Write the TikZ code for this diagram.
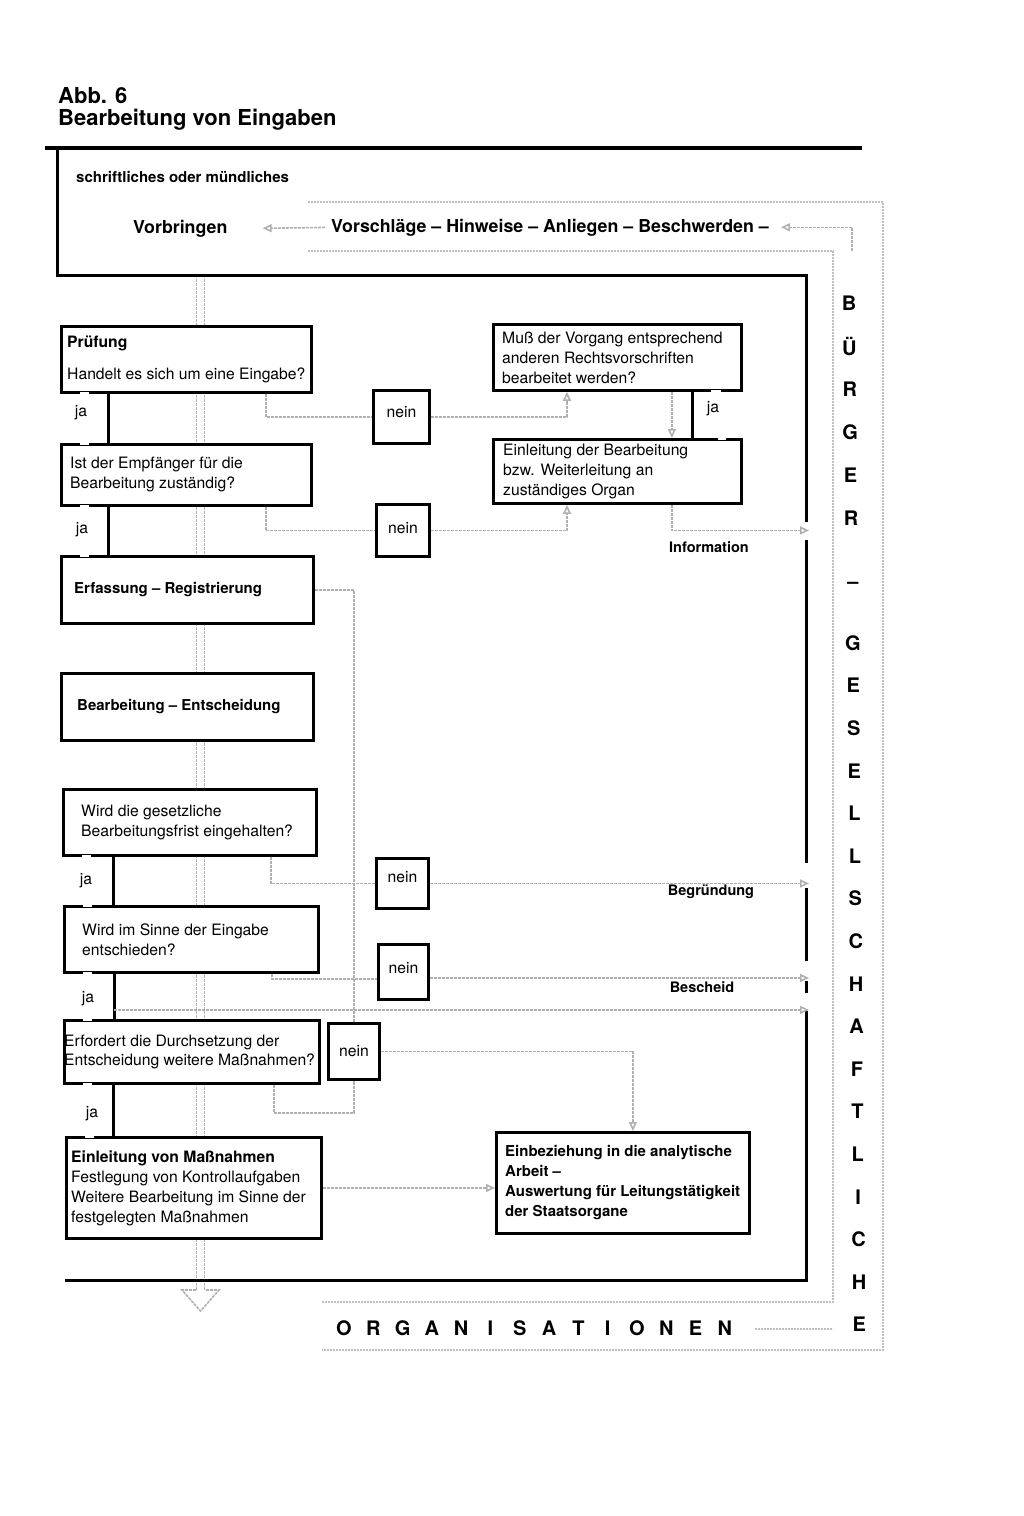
\documentclass[tikz,border=0pt]{standalone}
\usepackage{fontspec}
\setmainfont{TeX Gyre Heros}
\usetikzlibrary{arrows.meta}

\newcommand{\grund}{\fontsize{15.7}{20}\selectfont}
\newcommand{\fett}{\fontsize{15}{20}\selectfont\bfseries}
\newcommand{\gross}{\fontsize{17.8}{21}\selectfont\bfseries}
\newcommand{\titel}{\fontsize{22}{23}\selectfont\bfseries}
\newcommand{\zeichen}{\fontsize{20}{22}\selectfont\bfseries}
\newcommand{\etikett}{\fontsize{14.5}{18}\selectfont\bfseries}

\tikzset{
  kasten/.style={draw, line width=2.9pt, fill=white, anchor=north west},
  inhalt/.style={anchor=west, align=left, font=\grund, inner sep=0pt},
  neinbox/.style={kasten, font=\grund},
  rahmen/.style={line width=3pt},
  linie/.style={draw=gray!62, line width=1.6pt, dash pattern=on 3pt off 1pt},
  fluss/.style={linie, -{Triangle[open, length=9pt, width=8pt]}},
  band/.style={draw=gray!50, line width=1.5pt, dash pattern=on 2pt off 1pt},
  luecke/.style={draw=white, line width=4.5pt},
}

\begin{document}
\begin{tikzpicture}[x=1pt, y=-1pt, every node/.style={inner sep=0pt}]
  \fill[white] (0,0) rectangle (1024,1516);
  \useasboundingbox (0,0) rectangle (1024,1516);

  \node[font=\titel, anchor=base west] (abb) at (58,103) {Abb. 6};
  \node[font=\titel, anchor=base west] (titel) at (58,125) {Bearbeitung von Eingaben};

  \draw[band] (308,202) -- (883,202) -- (883,1350) -- (322,1350);
  \draw[band] (308,251) -- (833,251) -- (833,1302) -- (322,1302);
  \draw[band] (755,1329) -- (833,1329);

  \coordinate (oben) at (200.5,275);
  \coordinate (unten) at (200.5,1290);
  \coordinate (rand) at (809,0);
  \draw[linie, double=white, double distance=6.5pt] (oben) -- (unten);
  \draw[linie, line join=miter] ([xshift=-4.5pt]unten) -- ++(-14,0) -- ++(18.5,21) -- ++(18.5,-21) -- ++(-14,0);

  \draw[line width=4.4pt] (45,148) -- (862,148);
  \draw[rahmen] (57,148) -- (57,275) -- (806,275) -- (806,522);
  \draw[rahmen] (806,540) -- (806,863);
  \draw[rahmen] (806,888) -- (806,961);
  \draw[rahmen] (806,981) -- (806,993);
  \draw[rahmen] (806,1011) -- (806,1280) -- (65,1280);

  \node[font=\fett, anchor=base west] (schrift) at (76,182) {schriftliches oder mündliches};
  \node[font=\gross, anchor=base west] (vorbr) at (133,233) {Vorbringen};
  \node[font=\gross, anchor=base west] (vorschl) at (331,232) {Vorschläge – Hinweise – Anliegen – Beschwerden –};
  \coordinate (bandpfeil) at (852,251);
  \draw[fluss] (bandpfeil) |- ([xshift=12pt]vorschl.east);
  \draw[fluss, shorten <=6pt] (vorschl.west) -- ([xshift=35pt]vorbr.east);

  \node[kasten, minimum width=250pt, minimum height=66pt, label={[inhalt, xshift=7pt]west:{\textbf{Prüfung}\\[12pt]Handelt es sich um eine Eingabe?}}] (pruef) at (60,325) {};
  \node[kasten, minimum width=250pt, minimum height=61pt, label={[inhalt, xshift=10pt]west:{Ist der Empfänger für die\\Bearbeitung zuständig?}}] (empf) at (60,443) {};
  \node[kasten, minimum width=252pt, minimum height=67pt, label={[inhalt, font=\fett, xshift=14pt]west:{Erfassung – Registrierung}}] (erfass) at (60,555) {};
  \node[kasten, minimum width=252pt, minimum height=67pt, label={[inhalt, font=\fett, xshift=17pt]west:{Bearbeitung – Entscheidung}}] (bearb) at (60,672) {};
  \node[kasten, minimum width=253pt, minimum height=66pt, label={[inhalt, xshift=19pt]west:{Wird die gesetzliche\\Bearbeitungsfrist eingehalten?}}] (frist) at (62,788) {};
  \node[kasten, minimum width=254pt, minimum height=66pt, label={[inhalt, xshift=19pt]west:{Wird im Sinne der Eingabe\\entschieden?}}] (sinne) at (63,905) {};
  \node[kasten, minimum width=255pt, minimum height=63pt, label={[inhalt, xshift=1pt]west:{Erfordert die Durchsetzung der\\Entscheidung weitere Maßnahmen?}}] (erford) at (63,1019) {};
  \node[kasten, minimum width=255pt, minimum height=101pt, label={[inhalt, xshift=6pt]west:{\textbf{Einleitung von Maßnahmen}\\Festlegung von Kontrollaufgaben\\Weitere Bearbeitung im Sinne der\\festgelegten Maßnahmen}}] (mass) at (65,1136) {};
  \node[kasten, minimum width=248pt, minimum height=66pt, label={[inhalt, xshift=10pt]west:{Muß der Vorgang entsprechend\\anderen Rechtsvorschriften\\bearbeitet werden?}}] (muss) at (492,323) {};
  \node[kasten, minimum width=248pt, minimum height=64pt, label={[inhalt, xshift=11pt]west:{Einleitung der Bearbeitung\\bzw. Weiterleitung an\\zuständiges Organ}}] (einl) at (492,438) {};
  \node[kasten, minimum width=253pt, minimum height=101pt, label={[inhalt, font=\fett, xshift=10pt]west:{Einbeziehung in die analytische\\Arbeit –\\Auswertung für Leitungstätigkeit\\der Staatsorgane}}] (einbez) at (495,1131) {};

  \node[neinbox, minimum width=56pt, minimum height=53pt, text depth=10pt] (nein1) at (372,389) {nein};
  \node[neinbox, minimum width=53pt, minimum height=52pt, text depth=6pt] (nein2) at (375,503) {nein};
  \node[neinbox, minimum width=52pt, minimum height=50pt, text depth=14pt] (nein3) at (375,857) {nein};
  \node[neinbox, minimum width=50pt, minimum height=55pt, text depth=8pt] (nein4) at (377,943) {nein};
  \node[neinbox, minimum width=51pt, minimum height=56pt] (nein5) at (327,1022) {nein};

  \draw[rahmen] ([xshift=48pt]pruef.south west) -- ([xshift=48pt]empf.north west);
  \draw[rahmen] ([xshift=48pt]empf.south west) -- ([xshift=48pt]erfass.north west);
  \draw[rahmen] ([xshift=51pt]frist.south west) -- ([xshift=51pt]frist.south west |- sinne.north);
  \draw[rahmen] ([xshift=51pt]sinne.south west) -- ([xshift=51pt]sinne.south west |- erford.north);
  \draw[rahmen] ([xshift=50pt]erford.south west) -- ([xshift=50pt]erford.south west |- mass.north);
  \draw[rahmen] ([xshift=-50pt]muss.south east) -- ([xshift=-50pt]einl.north east);
  \foreach \k in {pruef.south west, empf.north west, empf.south west, erfass.north west, frist.south west, sinne.north west, sinne.south west, erford.north west, erford.south west, mass.north west}
    \draw[luecke] ([xshift=20pt]\k) -- ++(9,0);
  \draw[luecke] ([xshift=-32pt]muss.south east) -- ++(10,0);
  \draw[luecke] ([xshift=-25pt]einl.north east) -- ++(8,0);

  \node[font=\grund] (ja1) at (81,413) {ja};
  \node[font=\grund] (ja2) at (82,530) {ja};
  \node[font=\grund] (ja3) at (86,881) {ja};
  \node[font=\grund] (ja4) at (88,999) {ja};
  \node[font=\grund] (ja5) at (92,1114) {ja};
  \node[font=\grund] (ja6) at (713,409) {ja};

  \draw[linie] ([xshift=-47pt]pruef.south east) |- (nein1.west);
  \draw[fluss] (nein1.east) -| ([xshift=75pt]muss.south west);
  \draw[fluss] ([xshift=-71pt]muss.south east) -- ([xshift=-71pt]einl.north east);
  \draw[linie] ([xshift=-47pt]empf.south east) |- (nein2.west);
  \draw[fluss] (nein2.east) -| ([xshift=75pt]einl.south west);
  \draw[fluss] ([xshift=-71pt]einl.south east) |- (nein2.east -| rand);
  \draw[linie] (erfass.east) -| (nein5.north);
  \draw[linie] ([xshift=-47pt]frist.south east) |- (nein3.west);
  \draw[fluss] (nein3.east) -- (nein3.east -| rand);
  \draw[linie] ([xshift=-48pt]sinne.south east) |- ([yshift=-7pt]nein4.west);
  \draw[fluss] ([yshift=-6pt]nein4.east) -- ([yshift=-6pt]nein4.east -| rand);
  \draw[fluss] ([xshift=51pt,yshift=-36pt]sinne.south west) coordinate (jaweg) -- (jaweg -| rand);
  \draw[linie] ([xshift=-47pt]erford.south east) -- ++(0,28) -| (nein5.south);
  \draw[fluss] (nein5.east) -| ([xshift=-118pt]einbez.north east);
  \draw[fluss] (mass.east) -- (mass.east -| einbez.west);

  \node[font=\etikett] (information) at (709,547) {Information};
  \node[font=\etikett] (begruendung) at (711,892) {Begründung};
  \node[font=\etikett] (bescheid) at (702,987) {Bescheid};

  \foreach \buch [count=\i from 0] in {B,Ü,R,G,E,R}
    \node[font=\zeichen] (bu\i) at ({849+0.4*\i},{303+43*\i}) {\buch};
  \node[font=\zeichen] (strich) at (853,585) {–};
  \foreach \buch [count=\i from 0] in {G,E,S,E,L,L,S,C,H,A,F,T,L,I,C,H,E}
    \node[font=\zeichen] (ge\i) at ({853+0.4*\i},{643+42.6*\i}) {\buch};
  \foreach \buch [count=\i from 0] in {O,R,G,A,N,I,S,A,T,I,O,N,E,N}
    \node[font=\zeichen] (org\i) at ({344+29.3*\i},1328) {\buch};
\end{tikzpicture}
\end{document}
